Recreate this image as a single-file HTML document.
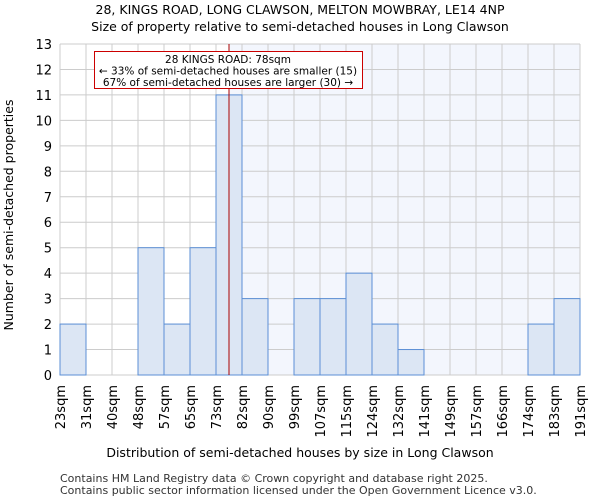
<!DOCTYPE html>
<html><head><meta charset="utf-8"><style>
body{margin:0;background:#fff;font-family:"DejaVu Sans","Liberation Sans",sans-serif;}
</style></head><body>
<svg width="600" height="500" xmlns="http://www.w3.org/2000/svg" font-family="DejaVu Sans, Liberation Sans, sans-serif">
<text x="300" y="14" text-anchor="middle" font-size="12.5">28, KINGS ROAD, LONG CLAWSON, MELTON MOWBRAY, LE14 4NP</text>
<text x="300" y="31" text-anchor="middle" font-size="12.5">Size of property relative to semi-detached houses in Long Clawson</text>
<g id="plot"></g>
<text x="300" y="457" text-anchor="middle" font-size="12.5">Distribution of semi-detached houses by size in Long Clawson</text>
<text transform="translate(13,215) rotate(-90)" text-anchor="middle" font-size="12.5">Number of semi-detached properties</text>
<text x="60" y="482" font-size="11" fill="#333">Contains HM Land Registry data © Crown copyright and database right 2025.</text>
<text x="60" y="494" font-size="11" fill="#333">Contains public sector information licensed under the Open Government Licence v3.0.</text>
</svg>
<script>
const categories=["23sqm","31sqm","40sqm","48sqm","57sqm","65sqm","73sqm","82sqm","90sqm","99sqm","107sqm","115sqm","124sqm","132sqm","141sqm","149sqm","157sqm","166sqm","174sqm","183sqm","191sqm"];
const counts=[2,0,0,5,2,5,11,3,0,3,3,4,2,1,0,0,0,0,2,3];
const yTicks=[0,1,2,3,4,5,6,7,8,9,10,11,12,13];
const propertyBin=6.5;
const annotation=["28 KINGS ROAD: 78sqm","← 33% of semi-detached houses are smaller (15)","67% of semi-detached houses are larger (30) →"];
const NS="http://www.w3.org/2000/svg";
const g=document.getElementById('plot');
const X0=60,X1=580,Y0=375,Y1=44,yMax=13;
const bw=(X1-X0)/counts.length;
const xs=i=>X0+i*bw;
const ys=v=>Y0-(v/yMax)*(Y0-Y1);
function mk(t,a){const e=document.createElementNS(NS,t);for(const k in a)e.setAttribute(k,a[k]);g.appendChild(e);return e;}
const lx=xs(propertyBin);
let r=mk('rect',{x:lx,y:Y1,width:X1-lx,height:Y0-Y1,fill:'#f3f6fd'});


for(let i=0;i<=counts.length;i++){let l=mk('line',{x1:xs(i),x2:xs(i),y1:Y1,y2:Y0,stroke:'#ccc','stroke-width':1});

}
yTicks.forEach(v=>{let l=mk('line',{x1:X0,x2:X1,y1:ys(v),y2:ys(v),stroke:'#ccc','stroke-width':1});


let t=mk('text',{x:X0-8,y:ys(v)+5,'text-anchor':'end','font-size':13});t.textContent=v;

});
counts.forEach((c,i)=>{if(c<=0)return;let b=mk('rect',{x:xs(i),y:ys(c),width:bw,height:Y0-ys(c),fill:'#dce6f4',stroke:'#5b8fd6','stroke-width':1});

});
categories.forEach((c,i)=>{let t=mk('text',{transform:`translate(${xs(i)+5},385) rotate(-90)`,'text-anchor':'end','font-size':13});t.textContent=c;

});
let pl=mk('line',{x1:lx,x2:lx,y1:Y1,y2:Y0,stroke:'#a00','stroke-width':1});


let box=mk('rect',{x:94.5,y:51.5,width:268,height:37,fill:'#fff',stroke:'#c00','stroke-width':1});


annotation.forEach((s,i)=>{let t=mk('text',{x:228,y:63+i*11.5,'text-anchor':'middle','font-size':10.5});t.textContent=s;

});
</script>
</body></html>
